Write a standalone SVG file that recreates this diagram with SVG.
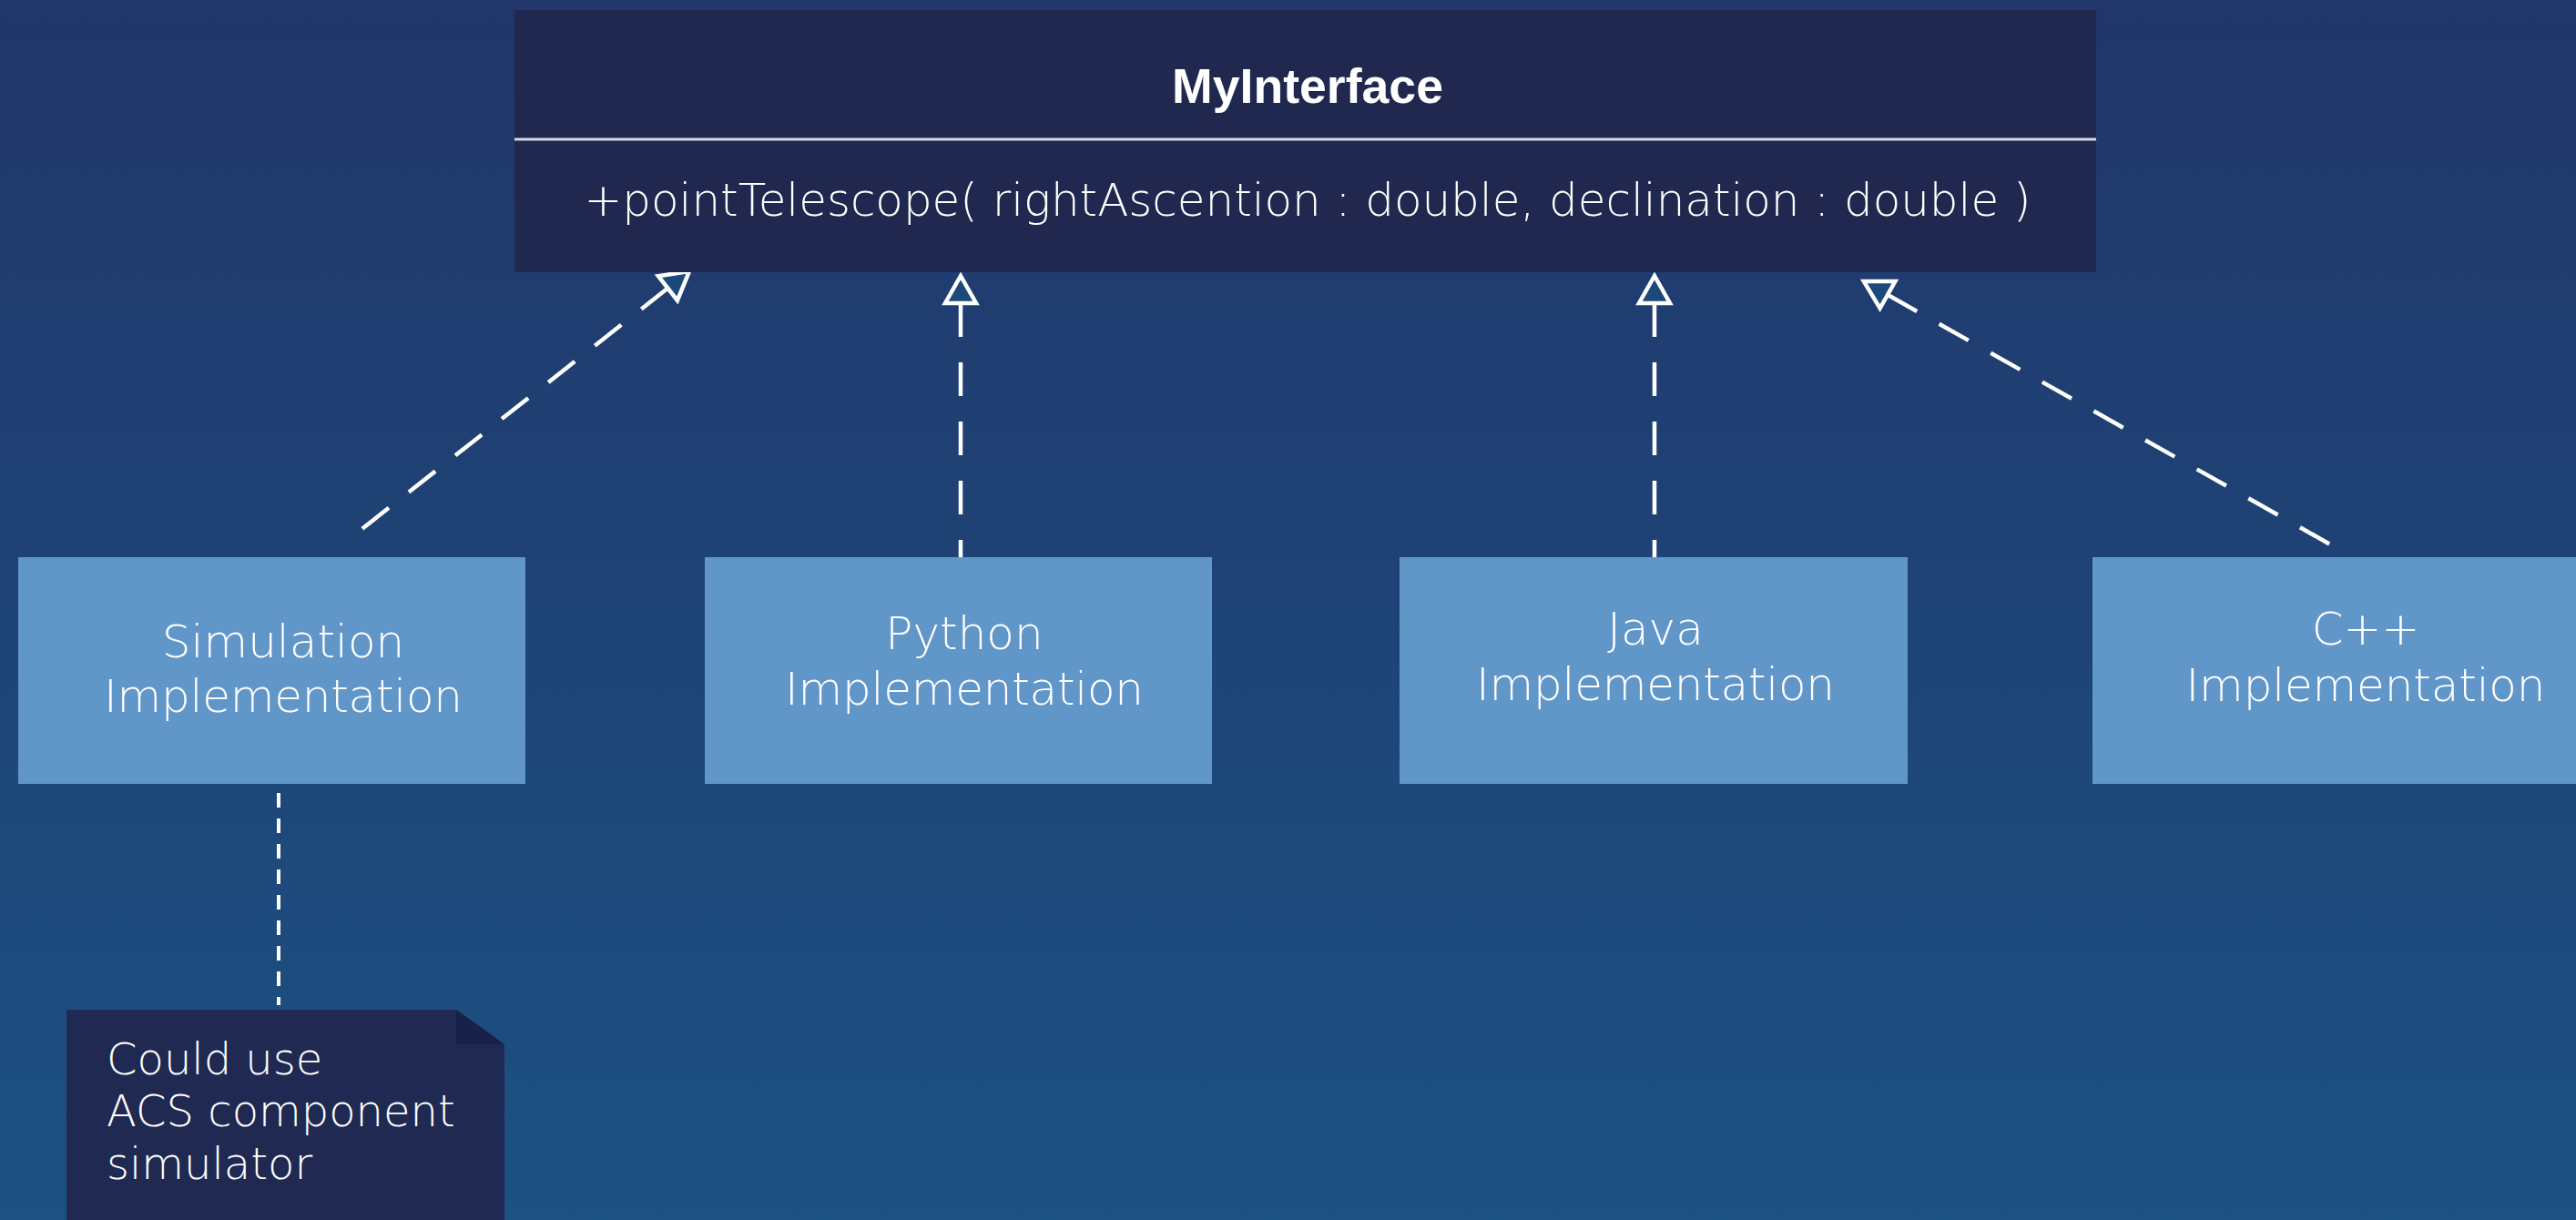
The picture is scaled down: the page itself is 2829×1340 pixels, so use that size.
<svg xmlns="http://www.w3.org/2000/svg" width="2829" height="1340" viewBox="0 0 2829 1340">
  <style>
    .impl { fill: #6196C9; }
    .lbl { font-family: "DejaVu Sans", "Liberation Sans", sans-serif; font-weight: 300; font-size: 50px; fill: #FFFFFF; text-anchor: middle; }
    .note-txt { font-family: "DejaVu Sans", "Liberation Sans", sans-serif; font-weight: 300; font-size: 48px; fill: #FFFFFF; }
    .real { fill: none; stroke: #FFFFFF; stroke-width: 4.5; stroke-dasharray: 37 28; marker-start: url(#hollow); }
    .anchor { fill: none; stroke: #FFFFFF; stroke-width: 4; stroke-dasharray: 16 12; }
  </style>
  <defs>
    <linearGradient id="bg" x1="0" y1="0" x2="0" y2="1">
      <stop offset="0" stop-color="#21366A"/>
      <stop offset="1" stop-color="#1C5183"/>
    </linearGradient>
    <marker id="hollow" markerUnits="userSpaceOnUse" markerWidth="50" markerHeight="50" refX="0" refY="0" viewBox="-5 -25 45 50" orient="auto-start-reverse" overflow="visible">
      <path d="M0,-17 L30,0 L0,17 Z" fill="#1B4A7A" stroke="#FFFFFF" stroke-width="4.5" stroke-linejoin="miter"/>
    </marker>
  </defs>

  <rect x="0" y="0" width="2829" height="1340" fill="url(#bg)"/>

  <g id="connectors">
    <path class="real" d="M733.4,316.6 L395,583"/>
    <path class="real" d="M1055,333 L1055,612"/>
    <path class="real" d="M1817,333 L1817,612"/>
    <path class="real" d="M2073,323.8 L2568,603"/>
    <path class="anchor" d="M306,871 L306,1104"/>
  </g>

  <g id="MyInterface">
    <rect x="565" y="11" width="1737" height="288" fill="#20284F"/>
    <line x1="565" y1="153" x2="2302" y2="153" stroke="#D4D8E4" stroke-width="3"/>
    <text x="1436" y="113" font-family="Liberation Sans, Arial, sans-serif" font-weight="bold" font-size="53" fill="#FFFFFF" text-anchor="middle" textLength="298" lengthAdjust="spacingAndGlyphs">MyInterface</text>
    <text x="1436" y="237" font-family="DejaVu Sans, Liberation Sans, sans-serif" font-weight="300" font-size="50" fill="#FFFFFF" text-anchor="middle" textLength="1589" lengthAdjust="spacing">+pointTelescope( rightAscention : double, declination : double )</text>
  </g>

  <g id="SimulationImpl">
    <rect class="impl" x="20" y="612" width="557" height="249"/>
    <text class="lbl" x="311" y="722">Simulation</text>
    <text class="lbl" x="311" y="782" textLength="394">Implementation</text>
  </g>

  <g id="PythonImpl">
    <rect class="impl" x="774" y="612" width="557" height="249"/>
    <text class="lbl" x="1059" y="713">Python</text>
    <text class="lbl" x="1059" y="774" textLength="394">Implementation</text>
  </g>

  <g id="JavaImpl">
    <rect class="impl" x="1537" y="612" width="558" height="249"/>
    <text class="lbl" x="1818" y="708">Java</text>
    <text class="lbl" x="1818" y="769" textLength="394">Implementation</text>
  </g>

  <g id="CppImpl">
    <rect class="impl" x="2298" y="612" width="560" height="249"/>
    <text class="lbl" x="2598" y="708">C++</text>
    <text class="lbl" x="2598" y="770" textLength="395">Implementation</text>
  </g>

  <g id="Note">
    <polygon points="73,1109 501,1109 554,1147 554,1340 73,1340" fill="#1F2952"/>
    <polygon points="501,1109 501,1147 554,1147" fill="#1A2148"/>
    <text class="note-txt" x="117" y="1180">Could use</text>
    <text class="note-txt" x="117" y="1237">ACS component</text>
    <text class="note-txt" x="117" y="1295">simulator</text>
  </g>
</svg>
